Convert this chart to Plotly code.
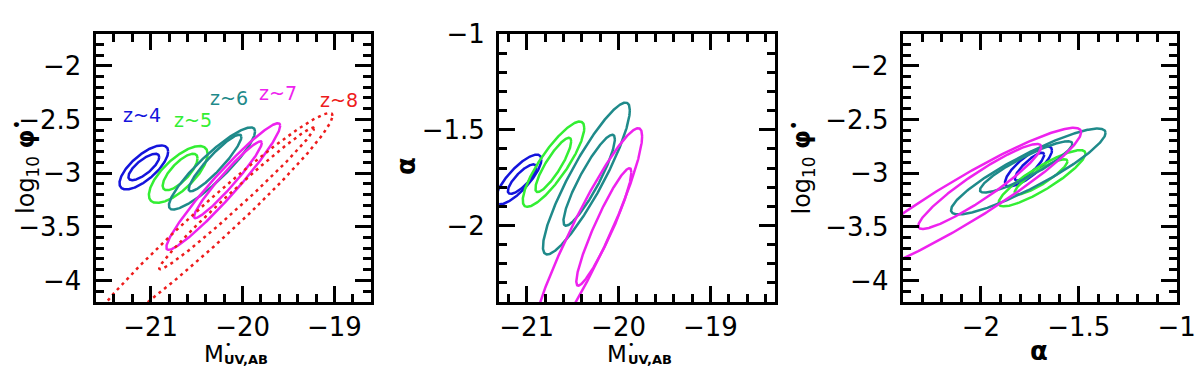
import numpy as np
import plotly.graph_objects as go

# ---------------- data ----------------
REDSHIFTS = ["z~4", "z~5", "z~6", "z~7", "z~8"]

# confidence contours: (centre_x, centre_y, half_width_x, half_height_y, correlation)
# Panel A: M*_UV (x) vs log10 phi* (y)
A_OUTER = [(-21.075, -2.947, 0.265, 0.205, 0.72),
           (-20.70, -3.013, 0.32, 0.265, 0.72),
           (-20.333, -2.957, 0.469, 0.383, 0.90),
           (-20.21, -3.125, 0.62, 0.59, 0.96),
           (-20.38, -3.50, 1.36, 1.06, 0.975)]
A_INNER = [(-21.075, -2.943, 0.168, 0.123, 0.75),
           (-20.68, -2.99, 0.19, 0.17, 0.75),
           (-20.30, -2.906, 0.287, 0.264, 0.92),
           (-20.16, -3.062, 0.37, 0.358, 0.96),
           (-20.065, -3.236, 0.842, 0.66, 0.988)]
# Panel B: M*_UV (x) vs alpha (y)
B_OUTER = [(-21.09, -1.76, 0.25, 0.13, 0.80),
           (-20.708, -1.68, 0.335, 0.223, 0.85),
           (-20.35, -1.755, 0.473, 0.397, 0.90),
           (-20.363, -2.092, 0.62, 0.60, 0.93),
           None]
B_INNER = [(-21.05, -1.758, 0.155, 0.077, 0.80),
           (-20.71, -1.684, 0.195, 0.142, 0.87),
           (-20.32, -1.764, 0.28, 0.238, 0.90),
           (-20.16, -2.008, 0.30, 0.307, 0.93),
           None]
# Panel C: alpha (x) vs log10 phi* (y)
C_OUTER = [(-1.757, -2.938, 0.12, 0.187, 0.80),
           (-1.688, -3.048, 0.222, 0.262, 0.88),
           (-1.758, -2.985, 0.395, 0.40, 0.90),
           (-2.108, -3.278, 0.62, 0.70, 0.94),
           None]
C_INNER = [(-1.752, -2.94, 0.075, 0.13, 0.85),
           (-1.693, -3.035, 0.135, 0.164, 0.88),
           (-1.769, -2.943, 0.236, 0.239, 0.90),
           (-2.006, -3.124, 0.314, 0.396, 0.93),
           None]

# redshift label positions in panel A (data coordinates)
LABEL_X = [-21.096, -20.545, -20.153, -19.618, -18.946]
LABEL_Y = [-2.462, -2.504, -2.303, -2.256, -2.316]

# ---------------- style ----------------
COLORS = ["#1414dc", "#33ee33", "#1f8a8a", "#ee22ee", "#ee1c1c"]
DASHES = ["solid", "solid", "solid", "solid", "3px,4px"]
FONT = "DejaVu Sans"
W, H = 1203, 367


def ellipse(p, n=361):
    cx, cy, sx, sy, rho = p
    t = np.linspace(0, 2 * np.pi, n)
    x = cx + sx * np.cos(t)
    y = cy + sy * (rho * np.cos(t) + np.sqrt(1 - rho ** 2) * np.sin(t))
    return x, y


fig = go.Figure()

panels = [("x", "y", A_OUTER, A_INNER),
          ("x2", "y2", B_OUTER, B_INNER),
          ("x3", "y3", C_OUTER, C_INNER)]
for xa, ya, outer, inner in panels:
    for i, z in enumerate(REDSHIFTS):
        for cont in (outer[i], inner[i]):
            if cont is None:
                continue
            x, y = ellipse(cont)
            fig.add_trace(go.Scatter(
                x=x, y=y, mode="lines", xaxis=xa, yaxis=ya, name=z,
                line=dict(color=COLORS[i], width=2.5, dash=DASHES[i]),
                showlegend=False, hoverinfo="skip"))


def px_x(p):
    return p / W


def px_y(p):
    return (H - p) / H


ydom = [px_y(291), px_y(12)]

axis_common = dict(showline=True, linecolor="black", linewidth=3, mirror="allticks",
                   ticks="inside", ticklen=16, tickwidth=2.5, tickcolor="black",
                   showgrid=False, zeroline=False, ticklabeloverflow="allow",
                   tickfont=dict(family=FONT, size=26, color="black"))
xaxis_common = dict(axis_common, ticklabelstandoff=0)
yaxis_common = dict(axis_common, ticklabelstandoff=6)


def minor(d):
    return dict(dtick=d, ticks="inside", ticklen=8, tickwidth=2.5, tickcolor="black",
                showgrid=False)


layout = dict(
    width=W, height=H, margin=dict(l=0, r=0, t=0, b=0),
    paper_bgcolor="white", plot_bgcolor="white", showlegend=False,
    xaxis=dict(xaxis_common, domain=[px_x(89), px_x(369)], range=[-21.6, -18.6],
               tick0=-21, dtick=1, minor=minor(0.2), anchor="y"),
    yaxis=dict(yaxis_common, domain=ydom, range=[-4.2, -1.7],
               tick0=-2, dtick=0.5, minor=minor(0.1), anchor="x"),
    xaxis2=dict(xaxis_common, domain=[px_x(499), px_x(779)], range=[-21.3, -18.3],
                tick0=-21, dtick=1, minor=minor(0.2), anchor="y2"),
    yaxis2=dict(yaxis_common, domain=ydom, range=[-2.4, -0.997],
                tick0=-1, dtick=0.5, minor=minor(0.1), anchor="x2"),
    xaxis3=dict(xaxis_common, domain=[px_x(909), px_x(1188)], range=[-2.4, -0.997],
                tick0=-1, dtick=0.5, minor=minor(0.1), anchor="y3"),
    yaxis3=dict(yaxis_common, domain=ydom, range=[-4.2, -1.7],
                tick0=-2, dtick=0.5, minor=minor(0.1), anchor="x3"),
)
fig.update_layout(**layout)

# redshift labels in panel A
for i, z in enumerate(REDSHIFTS):
    fig.add_annotation(x=LABEL_X[i], y=LABEL_Y[i], xref="x", yref="y", text=z,
                       showarrow=False, font=dict(family=FONT, size=19, color=COLORS[i]),
                       xanchor="center", yanchor="middle")


def title(text, x, y, size, angle=0, bold=False):
    fig.add_annotation(x=px_x(x), y=px_y(y), xref="paper", yref="paper",
                       text=f"<b>{text}</b>" if bold else text,
                       showarrow=False, textangle=angle,
                       font=dict(family=FONT, size=size, color="black"),
                       xanchor="center", yanchor="middle")


# x titles of the two magnitude panels: M, star dot and stacked subscript
for x0 in (229, 639):
    title("M", x0 - 20, 345, 23)
    title("•", x0 - 5, 335, 11)
    title("UV,AB", x0 + 13, 351, 13, bold=True)

title("α", 1048, 342, 26, bold=True)
yt = "log<sub>10</sub> <b>φ</b><sup>•</sup>"
title(yt, 17, 151, 24, angle=-90)
title("α", 405, 150, 26, angle=-90, bold=True)
title(yt, 806, 151, 24, angle=-90)

fig.write_html("out.html")
